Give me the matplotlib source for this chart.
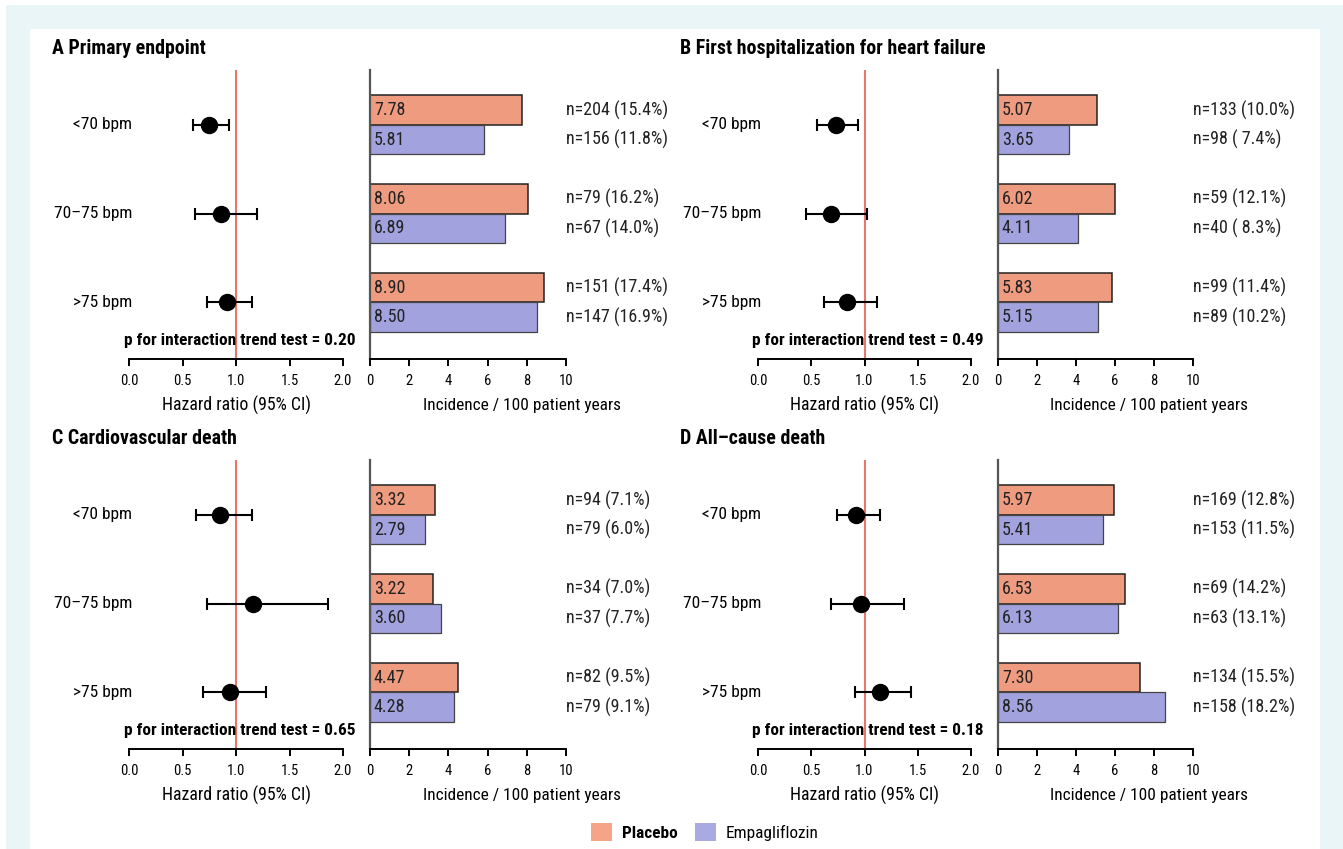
import matplotlib
matplotlib.use("Agg")
import matplotlib.pyplot as plt
from matplotlib.patches import Rectangle, Patch

plt.rcParams['font.family'] = ['Liberation Sans Narrow', 'Roboto Condensed', 'DejaVu Sans']

# ---------------- data ----------------
groups = ["<70 bpm", "70\u201375 bpm", ">75 bpm"]
titles = ["A Primary endpoint", "B First hospitalization for heart failure",
          "C Cardiovascular death", "D All\u2013cause death"]

placebo_A = [7.78, 8.06, 8.90]
empa_A = [5.81, 6.89, 8.50]
n_plac_A = ["n=204 (15.4%)", "n=79 (16.2%)", "n=151 (17.4%)"]
n_empa_A = ["n=156 (11.8%)", "n=67 (14.0%)", "n=147 (16.9%)"]
hr_A = [0.75, 0.86, 0.92]
lo_A = [0.60, 0.62, 0.73]
hi_A = [0.93, 1.20, 1.15]
p_A = "0.20"

placebo_B = [5.07, 6.02, 5.83]
empa_B = [3.65, 4.11, 5.15]
n_plac_B = ["n=133 (10.0%)", "n=59 (12.1%)", "n=99 (11.4%)"]
n_empa_B = ["n=98 ( 7.4%)", "n=40 ( 8.3%)", "n=89 (10.2%)"]
hr_B = [0.73, 0.685, 0.84]
lo_B = [0.55, 0.45, 0.62]
hi_B = [0.94, 1.02, 1.12]
p_B = "0.49"

placebo_C = [3.32, 3.22, 4.47]
empa_C = [2.79, 3.60, 4.28]
n_plac_C = ["n=94 (7.1%)", "n=34 (7.0%)", "n=82 (9.5%)"]
n_empa_C = ["n=79 (6.0%)", "n=37 (7.7%)", "n=79 (9.1%)"]
hr_C = [0.85, 1.16, 0.94]
lo_C = [0.63, 0.73, 0.69]
hi_C = [1.15, 1.86, 1.28]
p_C = "0.65"

placebo_D = [5.97, 6.53, 7.30]
empa_D = [5.41, 6.13, 8.56]
n_plac_D = ["n=169 (12.8%)", "n=69 (14.2%)", "n=134 (15.5%)"]
n_empa_D = ["n=153 (11.5%)", "n=63 (13.1%)", "n=158 (18.2%)"]
hr_D = [0.92, 0.97, 1.15]
lo_D = [0.74, 0.69, 0.91]
hi_D = [1.15, 1.37, 1.44]
p_D = "0.18"

hr_ticks = [0.0, 0.5, 1.0, 1.5, 2.0]
hr_ticklabels = ["0.0", "0.5", "1.0", "1.5", "2.0"]
inc_ticks = [0, 2, 4, 6, 8, 10]

panels = [
    (titles[0], placebo_A, empa_A, n_plac_A, n_empa_A, hr_A, lo_A, hi_A, p_A),
    (titles[1], placebo_B, empa_B, n_plac_B, n_empa_B, hr_B, lo_B, hi_B, p_B),
    (titles[2], placebo_C, empa_C, n_plac_C, n_empa_C, hr_C, lo_C, hi_C, p_C),
    (titles[3], placebo_D, empa_D, n_plac_D, n_empa_D, hr_D, lo_D, hi_D, p_D),
]

# ---------------- style ----------------
W, H = 1343, 849
C_PLAC = "#ee9b80"
C_EMPA = "#a2a2de"
C_PLAC_L = "#f5a487"
C_EMPA_L = "#aaaae2"
C_RED = "#e8776b"
BG = "#e9f5f7"

fig = plt.figure(figsize=(W / 100, H / 100), dpi=100)
fig.patches.append(Rectangle((6 / W, 0), 1 - 6 / W, 1 - 5 / H, transform=fig.transFigure,
                             facecolor=BG, edgecolor="none", zorder=-10))
fig.patches.append(Rectangle((30 / W, 0), (1320 - 30) / W, 1 - 29 / H, transform=fig.transFigure,
                             facecolor="white", edgecolor="none", zorder=-9))


def fax(x0, x1, ytop, ybot):
    return fig.add_axes([x0 / W, 1 - ybot / H, (x1 - x0) / W, (ybot - ytop) / H])


col_x = [(52, 129, 343, 370, 566), (680, 758, 971, 998, 1193)]
row_y = [(48, 70, 359), (439, 460, 749)]

for i, (title, plac, empa, nplac, nempa, hr, lo, hi, p) in enumerate(panels):
    tx, fx0, fx1, bx0, bx1 = col_x[i % 2]
    ty, ytop, ybot = row_y[i // 2]
    fig.text(tx / W, 1 - ty / H, title, fontsize=14.3, fontweight="bold", va="center", ha="left")

    ypos = list(range(len(groups)))
    ylim = (2.64, -0.62)

    # forest plot
    ax = fax(fx0, fx1, ytop, ybot)
    ax.set_xlim(0, 2)
    ax.set_ylim(*ylim)
    for s in ["top", "right", "left"]:
        ax.spines[s].set_visible(False)
    ax.spines["bottom"].set_linewidth(1.4)
    ax.set_yticks([])
    ax.set_xticks(hr_ticks)
    ax.set_xticklabels(hr_ticklabels)
    ax.tick_params(axis="x", direction="out", length=5, width=1.4, labelsize=10.5, pad=6)
    ax.axvline(1.0, color=C_RED, lw=1.5, zorder=1)
    xerr = [[h - l for h, l in zip(hr, lo)], [u - h for h, u in zip(hr, hi)]]
    ax.errorbar(hr, ypos, xerr=xerr, fmt="o", color="black", ms=11.5, elinewidth=1.5,
                capsize=4.5, capthick=1.5, zorder=3)
    for y, g in zip(ypos, groups):
        ax.text(0.03, y, g, ha="right", va="center", fontsize=12.5, clip_on=False)
    ax.text(2.12, 2.43, "p for interaction trend test = " + p, ha="right", va="center",
            fontsize=12.4, fontweight="bold", clip_on=False)
    ax.text(0.5, -0.16, "Hazard ratio (95% CI)", transform=ax.transAxes,
            ha="center", va="center", fontsize=12.8)

    # bar chart
    bx = fax(bx0, bx1, ytop, ybot)
    bx.set_xlim(0, 10)
    bx.set_ylim(*ylim)
    for s in ["top", "right"]:
        bx.spines[s].set_visible(False)
    bx.spines["left"].set_color("#555555")
    bx.spines["left"].set_linewidth(1.6)
    bx.spines["bottom"].set_linewidth(1.4)
    bx.set_yticks([])
    bx.set_xticks(inc_ticks)
    bx.tick_params(axis="x", direction="out", length=5, width=1.4, labelsize=10.5, pad=6)
    hgt = 0.333
    yp = [y - hgt / 2 for y in ypos]
    ye = [y + hgt / 2 for y in ypos]
    bx.barh(yp, plac, height=hgt, color=C_PLAC, edgecolor="#222222", linewidth=1.1, zorder=2)
    bx.barh(ye, empa, height=hgt, color=C_EMPA, edgecolor="#444444", linewidth=0.9, zorder=2)
    for y, v, t in zip(yp, plac, nplac):
        bx.text(0.2, y, f"{v:.2f}", ha="left", va="center", fontsize=13, color="#222222", zorder=3)
        bx.text(10, y, t, ha="left", va="center", fontsize=13, color="#222222", clip_on=False)
    for y, v, t in zip(ye, empa, nempa):
        bx.text(0.2, y, f"{v:.2f}", ha="left", va="center", fontsize=13, color="#222222", zorder=3)
        bx.text(10, y, t, ha="left", va="center", fontsize=13, color="#222222", clip_on=False)
    bx.text(0.776, -0.16, "Incidence / 100 patient years", transform=bx.transAxes,
            ha="center", va="center", fontsize=12.4)

handles = [Patch(facecolor=C_PLAC_L, edgecolor="none"), Patch(facecolor=C_EMPA_L, edgecolor="none")]
leg = fig.legend(handles, ["Placebo", "Empagliflozin"], loc="center", ncol=2,
                 bbox_to_anchor=(705 / W, 1 - 832 / H), frameon=False, fontsize=12.4,
                 handlelength=1.2, handleheight=1.3, handletextpad=0.6, columnspacing=1.0)
leg.get_texts()[0].set_fontweight("bold")

fig.savefig("out.png", dpi=100)
